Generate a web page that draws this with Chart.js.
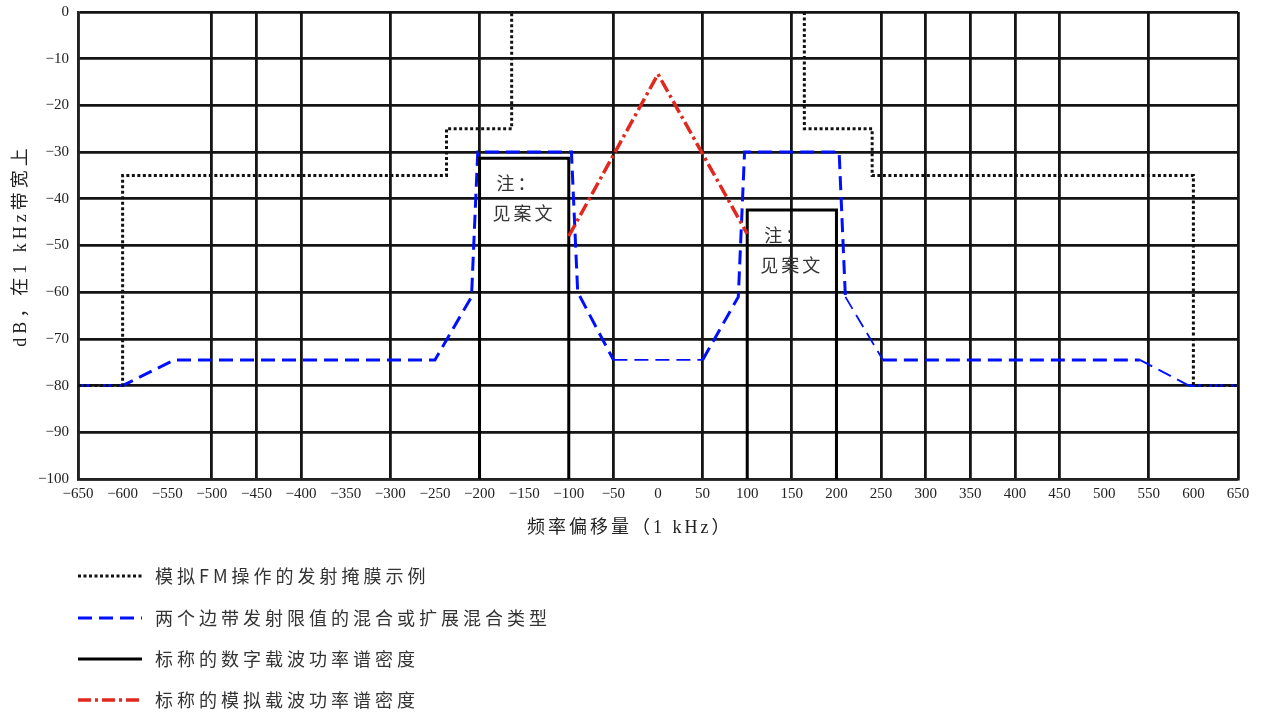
<!DOCTYPE html>
<html>
<head>
<meta charset="utf-8">
<script src="https://cdn.jsdelivr.net/npm/chart.js@4.4.0/dist/chart.umd.min.js"></script>
<style>
html, body { margin: 0; padding: 0; background: #fff; }
</style>
</head>
<body>
<canvas id="cvs" width="1263" height="713"></canvas>
<script>
// frequency offset (kHz) / level (dB in 1 kHz)
var fmMaskKHz = [-650, -600, -600, -237, -237, -164, -164, 0, 164, 164, 240, 240, 600, 600, 650];
var fmMaskDB  = [-80, -80, -35, -35, -25, -25, 0, null, 0, -25, -25, -35, -35, -80, -80];

var hybridKHz = [-650, -600, -542, -250, -209, -202, -97, -90, -50, 50, 90, 97, 203, 210, 252, 540, 595, 650];
var hybridDB  = [-80, -80, -74.5, -74.5, -61, -30, -30, -60, -74.5, -74.5, -61, -30, -30, -61, -74.5, -74.5, -80, -80];

var digitalKHz = [-200, -200, -100, -100, 0, 100, 100, 200, 200];
var digitalDB  = [-100, -31.3, -31.3, -100, null, -100, -42.4, -42.4, -100];

var analogKHz = [-100, 0, 100];
var analogDB  = [-48, -13.3, -47.5];

var xGridShown = [-650, -500, -450, -400, -300, -200, -50, 50, 150, 250, 300, 350, 400, 450, 550, 650];

// stretches of the hybrid limit drawn with a thinner pen in the figure
var thinFromKHz = [-50, 210, 540];

var legendLabels = [
	"模拟FM操作的发射掩膜示例",
	"两个边带发射限值的混合或扩展混合类型",
	"标称的数字载波功率谱密度",
	"标称的模拟载波功率谱密度"
];
var xTitle = "频率偏移量（1 kHz）";
var yTitle = "dB，在1 kHz带宽上";
var noteLines = ["注：", "见案文"];

function toPoints(xs, ys) {
	var pts = [];
	for (var i = 0; i < xs.length; ++i) {
		pts.push({ x: xs[i], y: ys[i] });
	}
	return pts;
}

function fmtTick(v) {
	return v < 0 ? "\u2212" + Math.abs(v) : String(v);
}

var serif = "'Liberation Serif', 'Noto Sans CJK SC', serif";
var cjk = "'Noto Sans CJK SC', sans-serif";

var extrasPlugin = {
	id: "extras",
	afterDraw: function(chart) {
		var ctx = chart.ctx;
		var xs = chart.scales.x, ys = chart.scales.y;
		var area = chart.chartArea;
		ctx.save();

		// notes inside the digital carrier boxes
		ctx.fillStyle = "#333";
		ctx.font = "18px " + cjk;
		ctx.letterSpacing = "3px";
		ctx.textBaseline = "middle";
		ctx.textAlign = "left";
		var boxes = [[digitalKHz[1], digitalDB[1]], [digitalKHz[6], digitalDB[6]]];
		boxes.forEach(function(b) {
			var px = xs.getPixelForValue(b[0]);
			var py = ys.getPixelForValue(b[1]);
			ctx.fillText(noteLines[0], px + 17, py + 25);
			ctx.fillText(noteLines[1], px + 13, py + 55);
		});

		// y axis title, rotated
		ctx.save();
		ctx.translate(21, (area.top + area.bottom) / 2);
		ctx.rotate(-Math.PI / 2);
		ctx.textAlign = "center";
		ctx.font = "18px " + serif;
		ctx.letterSpacing = "4px";
		ctx.fillStyle = "#222";
		ctx.fillText(yTitle, 0, 0);
		ctx.restore();

		// x axis title
		ctx.font = "18px " + serif;
		ctx.letterSpacing = "3px";
		ctx.fillStyle = "#222";
		ctx.fillText(xTitle, 527, 528);

		// legend, one item per row
		var rows = [576, 618, 659, 700];
		for (var i = 0; i < legendLabels.length; ++i) {
			var ds = chart.data.datasets[i];
			ctx.beginPath();
			ctx.strokeStyle = ds.borderColor;
			ctx.lineWidth = ds.borderWidth;
			ctx.setLineDash(ds.borderDash || []);
			ctx.moveTo(78, rows[i]);
			ctx.lineTo(142, rows[i]);
			ctx.stroke();
			ctx.setLineDash([]);
			ctx.fillStyle = "#333";
			ctx.font = "18px " + cjk;
			ctx.letterSpacing = "4px";
			ctx.fillText(legendLabels[i], 155, rows[i]);
		}
		ctx.restore();
	}
};

var cvs = document.getElementById("cvs");

new Chart(cvs, {
	type: "line",
	data: {
		datasets: [
			{
				label: legendLabels[0],
				data: toPoints(fmMaskKHz, fmMaskDB),
				borderColor: "#111",
				borderWidth: 3,
				borderDash: [3, 2.5],
				order: 2
			},
			{
				label: legendLabels[1],
				data: toPoints(hybridKHz, hybridDB),
				borderColor: "#0010ff",
				borderWidth: 3,
				borderDash: [14, 7],
				order: 3,
				segment: {
					borderWidth: function(c) {
						return thinFromKHz.indexOf(c.p0.parsed.x) >= 0 ? 1.8 : undefined;
					}
				}
			},
			{
				label: legendLabels[2],
				data: toPoints(digitalKHz, digitalDB),
				borderColor: "#000",
				borderWidth: 3,
				order: 1
			},
			{
				label: legendLabels[3],
				data: toPoints(analogKHz, analogDB),
				borderColor: "#e0281e",
				borderWidth: 3.5,
				borderDash: [13, 4, 3, 4],
				order: 0
			}
		]
	},
	options: {
		responsive: false,
		maintainAspectRatio: false,
		animation: false,
		layout: { padding: { top: 12, right: 25, left: 0, bottom: 0 } },
		elements: {
			point: { radius: 0 },
			line: { tension: 0, fill: false }
		},
		spanGaps: false,
		plugins: {
			legend: { display: false },
			tooltip: { enabled: false },
			title: { display: false }
		},
		scales: {
			x: {
				type: "linear",
				min: -650,
				max: 650,
				afterFit: function(scale) {
					scale.height = 234;
					scale.paddingLeft = 0;
					scale.paddingRight = 0;
				},
				ticks: {
					stepSize: 50,
					autoSkip: false,
					maxRotation: 0,
					padding: 6,
					color: "#222",
					font: { family: serif, size: 15 },
					callback: fmtTick
				},
				grid: {
					drawTicks: false,
					lineWidth: 2.8,
					color: function(c) {
						return (c.tick && xGridShown.indexOf(c.tick.value) >= 0) ? "#151515" : "rgba(0,0,0,0)";
					}
				},
				border: { display: true, color: "#222", width: 2.5 }
			},
			y: {
				min: -100,
				max: 0,
				afterFit: function(scale) {
					scale.width = 78;
					scale.paddingTop = 0;
					scale.paddingBottom = 0;
				},
				ticks: {
					stepSize: 10,
					padding: 9,
					color: "#222",
					font: { family: serif, size: 15 },
					callback: fmtTick
				},
				grid: {
					drawTicks: false,
					lineWidth: 2.8,
					color: "#151515"
				},
				border: { display: true, color: "#222", width: 2.5 }
			}
		}
	},
	plugins: [extrasPlugin]
});
</script>
</body>
</html>
